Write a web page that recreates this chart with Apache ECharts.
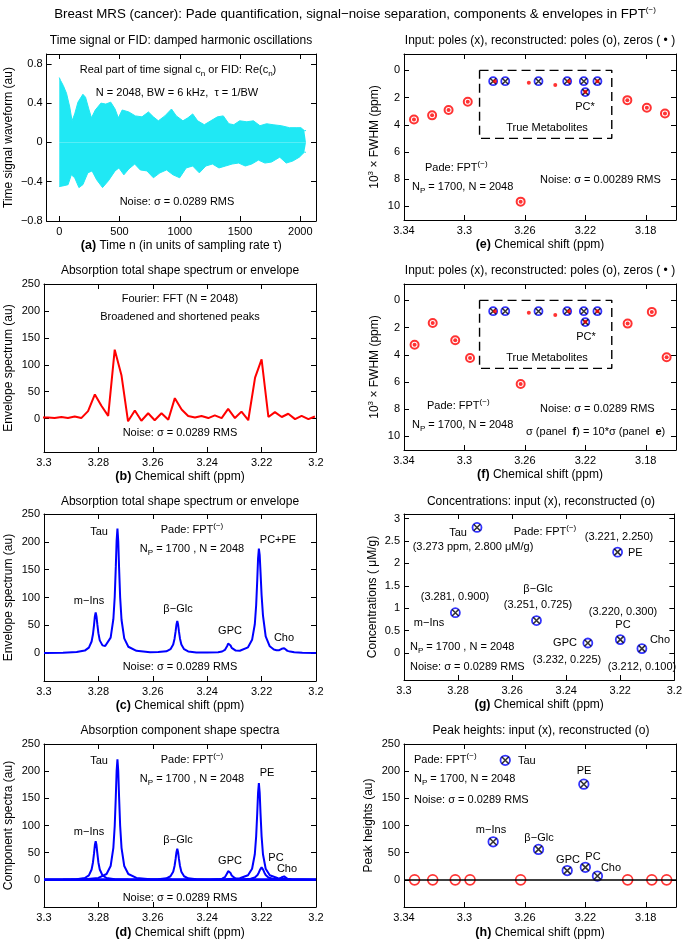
<!DOCTYPE html>
<html>
<head>
<meta charset="utf-8">
<title>Breast MRS (cancer): Pade quantification</title>
<script src="https://cdn.jsdelivr.net/npm/echarts@6/dist/echarts.min.js"></script>
<style>
html, body { margin: 0; padding: 0; background: #fff; }
#main { width: 685px; height: 942px; }
</style>
</head>
<body>
<div id="main"></div>
<script>
var FONT = '"Liberation Sans", Arial, Helvetica, sans-serif';
var RED = '#ff0000', BLUE = '#0000ff', CYAN = '#20e8f4';

// (a) FID, upper and lower envelope of the oscillation band
var fidUpN = [0, 11, 33, 60, 87, 106, 128, 155, 196, 218, 245, 267, 299, 346, 386, 427, 463, 490, 522, 577, 631, 686, 740, 781, 822, 876, 931, 971, 1026, 1067, 1107, 1148, 1203, 1257, 1312, 1361, 1407, 1448, 1497, 1556, 1611, 1665, 1720, 1774, 1842, 1910, 1965, 2005, 2033, 2047];
var fidUp = [0.66, 0.63, 0.58, 0.50, 0.36, 0.22, 0.29, 0.41, 0.49, 0.46, 0.34, 0.25, 0.33, 0.40, 0.39, 0.41, 0.34, 0.25, 0.33, 0.31, 0.27, 0.26, 0.31, 0.26, 0.22, 0.27, 0.34, 0.27, 0.22, 0.25, 0.29, 0.22, 0.18, 0.22, 0.26, 0.27, 0.19, 0.18, 0.22, 0.21, 0.22, 0.17, 0.19, 0.18, 0.17, 0.15, 0.15, 0.15, 0.12, 0.12];
var fidLoN = [0, 40, 73, 100, 128, 163, 196, 237, 272, 310, 359, 408, 463, 495, 536, 577, 626, 672, 727, 781, 835, 890, 944, 999, 1053, 1107, 1162, 1216, 1271, 1325, 1380, 1434, 1488, 1543, 1597, 1652, 1706, 1761, 1829, 1883, 1937, 1992, 2033, 2047];
var fidLo = [-0.45, -0.44, -0.43, -0.33, -0.36, -0.46, -0.43, -0.31, -0.29, -0.38, -0.46, -0.39, -0.29, -0.26, -0.33, -0.27, -0.22, -0.28, -0.29, -0.36, -0.31, -0.28, -0.33, -0.36, -0.26, -0.24, -0.31, -0.24, -0.22, -0.26, -0.24, -0.22, -0.21, -0.24, -0.22, -0.18, -0.21, -0.20, -0.15, -0.21, -0.19, -0.15, -0.10, -0.10];

// (b) FFT envelope
var fftShift = [3.3010, 3.2985, 3.2961, 3.2936, 3.2912, 3.2887, 3.2863, 3.2838, 3.2813, 3.2789, 3.2764, 3.2740, 3.2715, 3.2691, 3.2666, 3.2642, 3.2617, 3.2593, 3.2568, 3.2543, 3.2519, 3.2494, 3.2470, 3.2445, 3.2421, 3.2396, 3.2372, 3.2347, 3.2323, 3.2298, 3.2274, 3.2249, 3.2224, 3.2200, 3.2175, 3.2151, 3.2126, 3.2102, 3.2077, 3.2053, 3.2028, 3.2004];
var fftValue = [2, 2, 1, 3, 1, 4, 1, 14, 45, 24, 5, 128, 80, -5, 15, -4, 10, -3, 10, -2, 38, 17, 5, 2, 5, 1, 6, 1, 18, 1, 13, -3, 76, 110, 3, 12, 3, 9, -1, 5, -1, 4];

// (c) Pade total envelope
var padeShift = [3.300, 3.293, 3.288, 3.285, 3.2835, 3.2825, 3.282, 3.2816, 3.2813, 3.281, 3.2807, 3.2804, 3.280, 3.2795, 3.2785, 3.2775, 3.277, 3.2755, 3.2745, 3.274, 3.2736, 3.2733, 3.273, 3.2727, 3.2724, 3.272, 3.2715, 3.2705, 3.269, 3.266, 3.261, 3.258, 3.255, 3.2535, 3.2525, 3.252, 3.2516, 3.2513, 3.251, 3.2507, 3.2504, 3.250, 3.2495, 3.2485, 3.247, 3.244, 3.240, 3.236, 3.2345, 3.2335, 3.233, 3.2326, 3.2323, 3.232, 3.2317, 3.2314, 3.231, 3.2305, 3.2295, 3.228, 3.225, 3.2235, 3.2225, 3.222, 3.2216, 3.2213, 3.221, 3.2207, 3.2204, 3.220, 3.2195, 3.2185, 3.217, 3.2155, 3.2145, 3.2135, 3.213, 3.2126, 3.2123, 3.212, 3.2117, 3.2114, 3.211, 3.2105, 3.2095, 3.208, 3.205, 3.200];
var padeValue = [0.5, 0.9, 2.0, 4.6, 10, 21, 34, 51, 66, 73, 66, 52, 36, 23, 14, 13, 14.5, 28, 61, 101, 155, 202, 224, 201, 154, 100, 60, 26.5, 11.5, 4.3, 1.8, 1.9, 3.3, 7.2, 15.5, 26, 39.5, 51.5, 58, 51.5, 39.5, 26, 15.5, 7.2, 3.1, 1.4, 1.0, 1.8, 3.0, 5.8, 9.1, 13.4, 17.3, 19.3, 17.5, 13.8, 9.6, 6.6, 4.6, 4.4, 10.5, 24, 52, 86, 131, 170, 188, 176, 146, 104, 68, 30, 12.3, 6.5, 5.3, 5.3, 6.2, 7.8, 9.2, 9.6, 8.8, 7.2, 5.5, 4.1, 2.8, 1.5, 0.8, 0.35];

// (d) component spectra
var minsShift = [3.300, 3.293, 3.288, 3.285, 3.2835, 3.2825, 3.282, 3.2816, 3.2813, 3.281, 3.2807, 3.2804, 3.280, 3.2795, 3.2785, 3.277, 3.274, 3.269, 3.261, 3.240, 3.200];
var minsValue = [0.1, 0.4, 1.2, 3.4, 8.2, 19, 32, 49, 64, 71, 64, 49, 32, 19, 8.2, 3.4, 1.2, 0.4, 0.15, 0.05, 0];
var tauShift = [3.300, 3.290, 3.285, 3.280, 3.277, 3.2755, 3.2745, 3.274, 3.2736, 3.2733, 3.273, 3.2727, 3.2724, 3.272, 3.2715, 3.2705, 3.269, 3.266, 3.261, 3.253, 3.240, 3.200];
var tauValue = [0.3, 0.7, 1.2, 3.6, 10.7, 25.5, 59, 99, 153, 200, 222, 200, 153, 99, 59, 25.5, 10.7, 3.6, 1.2, 0.45, 0.2, 0.05];
var glcShift = [3.300, 3.271, 3.263, 3.258, 3.255, 3.2535, 3.2525, 3.252, 3.2516, 3.2513, 3.251, 3.2507, 3.2504, 3.250, 3.2495, 3.2485, 3.247, 3.244, 3.239, 3.231, 3.200];
var glcValue = [0, 0.1, 0.3, 0.9, 2.7, 6.6, 15, 25.5, 39, 51, 57, 51, 39, 25.5, 15, 6.6, 2.7, 0.9, 0.3, 0.1, 0];
var gpcShift = [3.300, 3.252, 3.244, 3.239, 3.236, 3.2345, 3.2335, 3.233, 3.2326, 3.2323, 3.232, 3.2317, 3.2314, 3.231, 3.2305, 3.2295, 3.228, 3.225, 3.220, 3.212, 3.200];
var gpcValue = [0, 0.04, 0.1, 0.3, 0.86, 2.1, 4.8, 8.0, 12.4, 16.2, 18, 16.2, 12.4, 8.0, 4.8, 2.1, 0.86, 0.3, 0.1, 0.04, 0];
var peShift = [3.300, 3.241, 3.233, 3.228, 3.225, 3.2235, 3.2225, 3.222, 3.2216, 3.2213, 3.221, 3.2207, 3.2204, 3.220, 3.2195, 3.2185, 3.217, 3.214, 3.209, 3.201, 3.200];
var peValue = [0, 0.36, 1.0, 2.9, 8.5, 20.5, 47, 80, 123, 160, 178, 160, 123, 80, 47, 20.5, 8.5, 2.9, 1.0, 0.36, 0.3];
var pcShift = [3.300, 3.240, 3.232, 3.227, 3.224, 3.2225, 3.2215, 3.221, 3.2206, 3.2203, 3.220, 3.2197, 3.2194, 3.219, 3.2185, 3.2175, 3.216, 3.213, 3.208, 3.200];
var pcValue = [0, 0.08, 0.23, 0.67, 1.9, 4.4, 9.0, 13.6, 18.4, 21.6, 23, 21.6, 18.4, 13.6, 9.0, 4.4, 1.9, 0.67, 0.23, 0.08];
var choShift = [3.300, 3.232, 3.224, 3.219, 3.216, 3.2145, 3.2135, 3.213, 3.2126, 3.2123, 3.212, 3.2117, 3.2114, 3.211, 3.2105, 3.2095, 3.208, 3.205, 3.200];
var choValue = [0, 0.014, 0.04, 0.11, 0.34, 0.8, 1.85, 3.1, 4.8, 6.3, 7, 6.3, 4.8, 3.1, 1.85, 0.8, 0.34, 0.11, 0.04];

// metabolites: m-Ins, Tau, b-Glc, GPC, PE, PC, Cho
var metShift = [3.281, 3.273, 3.251, 3.232, 3.221, 3.220, 3.212];
var metFwhm = [0.8, 0.8, 0.8, 0.8, 0.8, 1.6, 0.8];
var metConc = [0.900, 2.800, 0.725, 0.225, 2.250, 0.300, 0.100];
var metHeight = [70, 220, 56, 17, 176, 23, 7];

// spurious (noise) poles/zeros
var spurShiftE = [3.3334, 3.3214, 3.3105, 3.2978, 3.2628, 3.1922, 3.1793, 3.1673];
var spurFwhmE = [3.61, 3.31, 2.92, 2.31, 9.65, 2.19, 2.75, 3.17];
var spurShiftF = [3.3330, 3.3210, 3.3061, 3.2963, 3.2628, 3.1920, 3.1760, 3.1662];
var spurFwhmF = [3.26, 1.66, 2.94, 4.24, 6.15, 1.71, 0.85, 4.19];
var spurHeight = [0, 0, 0, 0, 0, 0, 0, 0];
var zeroShift = [3.2798, 3.2574, 3.2399, 3.2308, 3.2200, 3.2120];
var zeroFwhm = [0.80, 0.92, 1.07, 0.80, 1.58, 0.80];
var boxShift = [3.290, 3.2025, 3.2025, 3.290, 3.290];
var boxFwhm = [0, 0, 5, 5, 0];

// tick labels
var xTicksFid = [0, 500, 1000, 1500, 2000];
var yTicksFid = [-0.8, -0.4, 0, 0.4, 0.8];
var xTicksNarrow = [3.2, 3.22, 3.24, 3.26, 3.28, 3.3];
var xTicksWide = [3.18, 3.22, 3.26, 3.3, 3.34];
var yTicksSpec = [0, 50, 100, 150, 200, 250];
var yTicksFwhm = [0, 2, 4, 6, 8, 10];
var yTicksConc = [0, 0.5, 1, 1.5, 2, 2.5, 3];

var RICH = {
    sub: { fontSize: 8, fontFamily: FONT, verticalAlign: 'bottom', lineHeight: 9 },
    sup: { fontSize: 8, fontFamily: FONT, verticalAlign: 'top', lineHeight: 9 },
    b: { fontSize: 11, fontFamily: FONT, fontWeight: 'bold' },
    bb: { fontSize: 12.5, fontFamily: FONT, fontWeight: 'bold' }
};

function pairs(xs, ys) {
    return xs.map(function (x, k) { return [x, ys[k]]; });
}
function fmtNum(v) {
    return String(+(+v).toFixed(4)).replace('-', '\u2212');
}

var panels = [
    { grid: [44, 54, 272, 167],
      x: { min: -105, max: 2130, ticks: xTicksFid, name: '{bb|(a)} Time n (in units of sampling rate \u03c4)', gap: 15 },
      y: { min: -0.8, max: 0.9, ticks: yTicksFid, name: 'Time signal waveform (au)', gap: 29 } },
    { grid: [44, 284, 272, 168],
      x: { min: 3.2, max: 3.3, inverse: true, ticks: xTicksNarrow, name: '{bb|(b)} Chemical shift (ppm)', gap: 14 },
      y: { min: -62, max: 250, ticks: yTicksSpec, name: 'Envelope spectrum (au)', gap: 27 } },
    { grid: [44, 514, 272, 167],
      x: { min: 3.2, max: 3.3, inverse: true, ticks: xTicksNarrow, name: '{bb|(c)} Chemical shift (ppm)', gap: 15 },
      y: { min: -50, max: 250, ticks: yTicksSpec, name: 'Envelope spectrum (au)', gap: 27 } },
    { grid: [44, 744, 272, 166],
      x: { min: 3.2, max: 3.3, inverse: true, ticks: xTicksNarrow, name: '{bb|(d)} Chemical shift (ppm)', gap: 18 },
      y: { min: -50, max: 250, ticks: yTicksSpec, name: 'Component spectra (au)', gap: 27 } },
    { grid: [404, 54, 272, 166],
      x: { min: 3.16, max: 3.34, inverse: true, ticks: xTicksWide, name: '{bb|(e)} Chemical shift (ppm)', gap: 16 },
      y: { min: -1.2, max: 11, inverse: true, ticks: yTicksFwhm, name: '10{sup|3} \u00d7 FWHM (ppm)', gap: 21 } },
    { grid: [404, 284, 272, 166],
      x: { min: 3.16, max: 3.34, inverse: true, ticks: xTicksWide, name: '{bb|(f)} Chemical shift (ppm)', gap: 16 },
      y: { min: -1.2, max: 11, inverse: true, ticks: yTicksFwhm, name: '10{sup|3} \u00d7 FWHM (ppm)', gap: 21 } },
    { grid: [404, 514, 272, 166],
      x: { min: 3.2, max: 3.3, inverse: true, ticks: xTicksNarrow, name: '{bb|(g)} Chemical shift (ppm)', gap: 17 },
      y: { min: -0.6, max: 3.1, ticks: yTicksConc, name: 'Concentrations ( \u03bcM/g)', gap: 22 } },
    { grid: [404, 744, 272, 166],
      x: { min: 3.16, max: 3.34, inverse: true, ticks: xTicksWide, name: '{bb|(h)} Chemical shift (ppm)', gap: 18 },
      y: { min: -50, max: 250, ticks: yTicksSpec, name: 'Peak heights (au)', gap: 27 } }
];

var grids = [], xAxes = [], yAxes = [];
function makeAxis(gi, isX, a, primary) {
    var ax = {
        type: 'value', gridIndex: gi,
        position: isX ? (primary ? 'bottom' : 'top') : (primary ? 'left' : 'right'),
        min: a.min, max: a.max, inverse: !!a.inverse,
        axisLine: { show: true, onZero: false, lineStyle: { color: '#000', width: 1 } },
        splitLine: { show: false },
        axisTick: { show: true, inside: true, length: 5, customValues: a.ticks, lineStyle: { color: '#000', width: 1 } },
        axisLabel: { show: primary, customValues: a.ticks, formatter: fmtNum, color: '#000', fontSize: 11, fontFamily: FONT, margin: isX ? 5 : 4 }
    };
    if (primary) {
        ax.name = a.name;
        ax.nameLocation = 'middle';
        ax.nameGap = a.gap;
        ax.nameTextStyle = { color: '#000', fontSize: 12, fontFamily: FONT, lineHeight: 16, rich: RICH };
    }
    return ax;
}
panels.forEach(function (p, gi) {
    grids.push({ left: p.grid[0], top: p.grid[1], width: p.grid[2], height: p.grid[3], show: false });
    xAxes.push(makeAxis(gi, true, p.x, true), makeAxis(gi, true, p.x, false));
    yAxes.push(makeAxis(gi, false, p.y, true), makeAxis(gi, false, p.y, false));
});

var CROSS = 'path://M0,0L10,10M10,0L0,10';
var series = [];
function curve(gi, xs, ys, color, width, extra) {
    var s = { type: 'line', xAxisIndex: 2 * gi, yAxisIndex: 2 * gi, data: pairs(xs, ys), symbol: 'none', silent: true, z: 2,
              lineStyle: { color: color, width: width } };
    for (var k in extra) { s[k] = extra[k]; }
    return s;
}
function marks(gi, xs, ys, symbol, size, style, z) {
    return { type: 'scatter', xAxisIndex: 2 * gi, yAxisIndex: 2 * gi, data: pairs(xs, ys), symbol: symbol, symbolSize: size,
             itemStyle: style, silent: true, z: z };
}
function ring(gi, xs, ys, color, size, bw) {
    return marks(gi, xs, ys, 'circle', size, { color: 'rgba(0,0,0,0)', borderColor: color, borderWidth: bw }, 3);
}
function cross(gi, xs, ys, size) {
    return marks(gi, xs, ys, CROSS, size, { color: 'none', borderColor: '#000', borderWidth: 1.6 }, 4);
}
function dot(gi, xs, ys, size) {
    return marks(gi, xs, ys, 'circle', size, { color: RED }, 5);
}

// (a)
series.push(curve(0, fidUpN, fidUp, CYAN, 1, { areaStyle: { color: CYAN, opacity: 1, origin: 'auto' } }));
series.push(curve(0, fidLoN, fidLo, CYAN, 1, { areaStyle: { color: CYAN, opacity: 1, origin: 'auto' } }));
// (b)
series.push(curve(1, fftShift, fftValue, RED, 2));
// (c)
series.push(curve(2, padeShift, padeValue, BLUE, 2));
// (d)
[[minsShift, minsValue], [tauShift, tauValue], [glcShift, glcValue], [gpcShift, gpcValue],
 [peShift, peValue], [pcShift, pcValue], [choShift, choValue]].forEach(function (c) {
    series.push(curve(3, c[0], c[1], BLUE, 2));
});
// (e), (f)
[[4, spurShiftE, spurFwhmE], [5, spurShiftF, spurFwhmF]].forEach(function (p) {
    var gi = p[0];
    series.push(curve(gi, boxShift, boxFwhm, '#000', 1.4, { lineStyle: { color: '#000', width: 1.4, type: [9, 5] } }));
    series.push(ring(gi, p[1], p[2], RED, 8, 2));
    series.push(dot(gi, p[1], p[2], 4));
    series.push(ring(gi, metShift, metFwhm, BLUE, 8, 1.8));
    series.push(cross(gi, metShift, metFwhm, 6));
    series.push(dot(gi, zeroShift, zeroFwhm, 4));
});
// (g)
series.push(ring(6, metShift, metConc, BLUE, 9, 1.8));
series.push(cross(6, metShift, metConc, 6.5));
// (h)
var hRing = ring(7, spurShiftF, spurHeight, RED, 10, 1.6);
hRing.markLine = { silent: true, symbol: 'none', label: { show: false }, animation: false,
                   lineStyle: { color: '#000', width: 1.5, type: 'solid' }, data: [{ yAxis: 0 }] };
series.push(hRing);
series.push(ring(7, metShift, metHeight, BLUE, 9.5, 1.8));
series.push(cross(7, metShift, metHeight, 7));

// texts
var notes = [
    [178, 70, 'Real part of time signal c{sub|n} or FID: Re(c{sub|n})'],
    [177, 93, 'N = 2048, BW = 6 kHz,  \u03c4 = 1/BW'],
    [177, 202, 'Noise: \u03c3 = 0.0289 RMS'],
    [180, 299, 'Fourier: FFT (N = 2048)'],
    [180, 317, 'Broadened and shortened peaks'],
    [180, 433, 'Noise: \u03c3 = 0.0289 RMS'],
    [192, 530, 'Pade: FPT{sup|(\u2212)}'],
    [192, 549, 'N{sub|P} = 1700 , N = 2048'],
    [99, 532, 'Tau'], [89, 601, 'm\u2212Ins'], [178, 609, '\u03b2\u2212Glc'], [230, 631, 'GPC'], [278, 540, 'PC+PE'], [284, 638, 'Cho'],
    [180, 667, 'Noise: \u03c3 = 0.0289 RMS'],
    [192, 760, 'Pade: FPT{sup|(\u2212)}'],
    [192, 779, 'N{sub|P} = 1700 , N = 2048'],
    [99, 761, 'Tau'], [89, 832, 'm\u2212Ins'], [178, 840, '\u03b2\u2212Glc'], [230, 861, 'GPC'], [267, 773, 'PE'], [276, 858, 'PC'], [287, 869, 'Cho'],
    [180, 898, 'Noise: \u03c3 = 0.0289 RMS'],
    [547, 128, 'True Metabolites'], [585, 107, 'PC*'],
    [425, 168, 'Pade: FPT{sup|(\u2212)}', 'left'],
    [412, 187, 'N{sub|P} = 1700, N = 2048', 'left'],
    [540, 180, 'Noise: \u03c3 = 0.00289 RMS', 'left'],
    [547, 358, 'True Metabolites'], [586, 337, 'PC*'],
    [427, 406, 'Pade: FPT{sup|(\u2212)}', 'left'],
    [412, 425, 'N{sub|P} = 1700, N = 2048', 'left'],
    [540, 409, 'Noise: \u03c3 = 0.0289 RMS', 'left'],
    [526, 432, '\u03c3 (panel  {b|f}) = 10*\u03c3 (panel  {b|e})', 'left'],
    [458, 533, 'Tau'], [473, 547, '(3.273 ppm, 2.800 \u03bcM/g)'], [545, 532, 'Pade: FPT{sup|(\u2212)}'],
    [619, 537, '(3.221, 2.250)'], [628, 553, 'PE', 'left'],
    [455, 597, '(3.281, 0.900)'], [429, 623, 'm\u2212Ins'], [538, 589, '\u03b2\u2212Glc'], [538, 605, '(3.251, 0.725)'],
    [623, 612, '(3.220, 0.300)'], [623, 625, 'PC'], [565, 643, 'GPC'], [660, 640, 'Cho'],
    [567, 660, '(3.232, 0.225)'], [642, 667, '(3.212, 0.100)'],
    [410, 647, 'N{sub|P} = 1700 , N = 2048', 'left'],
    [410, 667, 'Noise: \u03c3 = 0.0289 RMS', 'left'],
    [414, 760, 'Pade: FPT{sup|(\u2212)}', 'left'],
    [414, 779, 'N{sub|P} = 1700, N = 2048', 'left'],
    [414, 800, 'Noise: \u03c3 = 0.0289 RMS', 'left'],
    [518, 761, 'Tau', 'left'], [584, 771, 'PE'], [491, 830, 'm\u2212Ins'], [539, 838, '\u03b2\u2212Glc'],
    [568, 860, 'GPC'], [593, 857, 'PC'], [611, 868, 'Cho']
];
var titles = [
    [355, 14, 'Breast MRS (cancer): Pade quantification, signal\u2212noise separation, components & envelopes in FPT{sup|(\u2212)}', 13.3],
    [181, 41, 'Time signal or FID: damped harmonic oscillations', 12],
    [180, 271, 'Absorption total shape spectrum or envelope', 12],
    [180, 502, 'Absorption total shape spectrum or envelope', 12],
    [180, 731, 'Absorption component shape spectra', 12],
    [540, 41, 'Input: poles (x), reconstructed: poles (o), zeros ( \u2022 )', 12],
    [540, 271, 'Input: poles (x), reconstructed: poles (o), zeros ( \u2022 )', 12],
    [541, 502, 'Concentrations: input (x), reconstructed (o)', 12],
    [541, 731, 'Peak heights: input (x), reconstructed (o)', 12]
];

function textEl(x, y, str, align, size) {
    return {
        type: 'text', x: x, y: y, z: 100, silent: true,
        style: {
            text: str, fill: '#000', fontSize: size, fontFamily: FONT,
            textAlign: align || 'center', textVerticalAlign: 'middle', lineHeight: 16, rich: RICH
        }
    };
}
var graphics = [];
notes.forEach(function (n) { graphics.push(textEl(n[0], n[1], n[2], n[3], 11)); });
titles.forEach(function (t) { graphics.push(textEl(t[0], t[1], t[2], 'center', t[3])); });

var chart = echarts.init(document.getElementById('main'));
chart.setOption({
    animation: false,
    backgroundColor: '#fff',
    textStyle: { fontFamily: FONT },
    grid: grids,
    xAxis: xAxes,
    yAxis: yAxes,
    series: series,
    graphic: graphics
});
</script>
</body>
</html>
